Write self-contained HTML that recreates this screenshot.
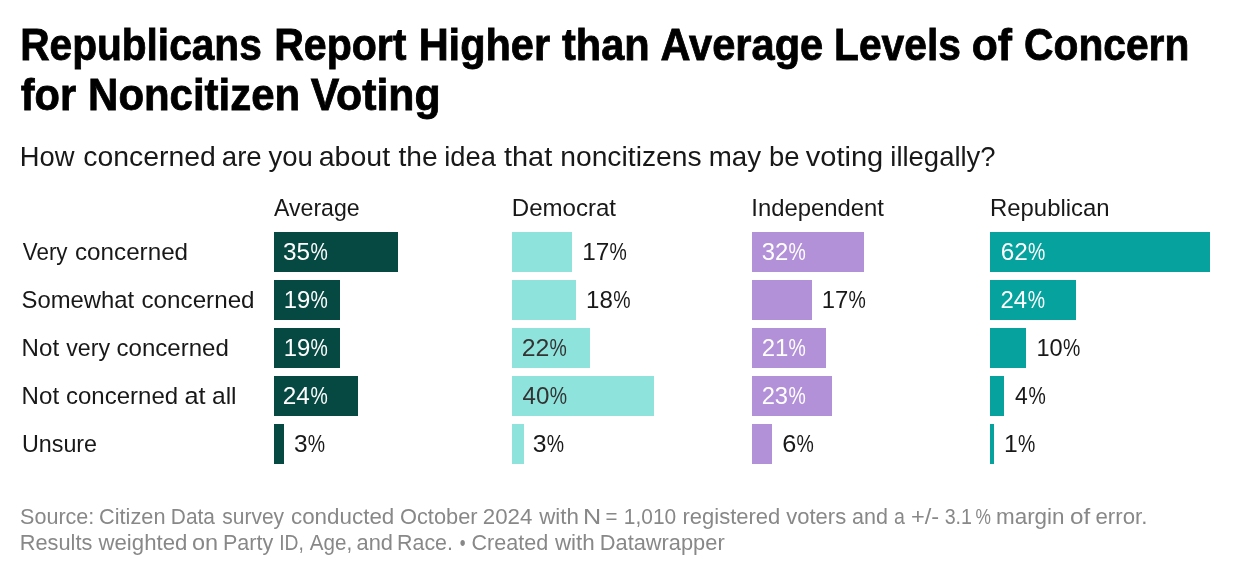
<!DOCTYPE html>
<html lang="en">
<head>
<meta charset="utf-8">
<title>Republicans Report Higher than Average Levels of Concern for Noncitizen Voting</title>
<style>
html,body{margin:0;padding:0;background:#fff;width:1240px;height:576px;overflow:hidden}
body{position:relative;font-family:"Liberation Sans",Arial,sans-serif}
h1,p,footer,div{margin:0;padding:0}
.l{position:absolute;left:0;font-size:0;line-height:0;white-space:nowrap}
.l span{display:inline-block;width:0;white-space:pre}
.bar{position:absolute;height:40px}
.t0 span{font-size:44px;line-height:44px;font-weight:700;color:#000000;transform-origin:0 37px;-webkit-text-stroke:0.8px #000}
.t1 span{font-size:28px;line-height:28px;font-weight:400;color:#181818;transform-origin:0 23px}
.t2 span{font-size:24px;line-height:24px;font-weight:400;color:#181818;transform-origin:0 20px}
.t3 span{font-size:24px;line-height:24px;font-weight:400;color:#ffffff;transform-origin:0 20px}
.t4 span{font-size:24px;line-height:24px;font-weight:400;color:#333333;transform-origin:0 20px}
.t5 span{font-size:22px;line-height:22px;font-weight:400;color:#888888;transform-origin:0 18px}
.c0{background:#064943}
.c1{background:#8fe3dd}
.c2{background:#b391d9}
.c3{background:#06a29d}
</style>
</head>
<body>
<h1><span class="l t0" style="top:23px"><span style="transform:translateX(20.19px) scaleX(0.9234)">Republicans</span> <span style="transform:translateX(274.17px) scaleX(0.9336)">Report</span> <span style="transform:translateX(418.64px) scaleX(0.9433)">Higher</span> <span style="transform:translateX(562px) scaleX(0.9448)">than</span> <span style="transform:translateX(660.53px) scaleX(0.9455)">Average</span> <span style="transform:translateX(834.09px) scaleX(0.9256)">Levels</span> <span style="transform:translateX(971.79px) scaleX(0.9693)">of</span> <span style="transform:translateX(1024.11px) scaleX(0.9259)">Concern</span></span>
<span class="l t0" style="top:73px"><span style="transform:translateX(20.76px) scaleX(0.9442)">for</span> <span style="transform:translateX(88.12px) scaleX(0.9529)">Noncitizen</span> <span style="transform:translateX(310.74px) scaleX(0.9714)">Voting</span></span></h1>
<p class="desc"><span class="l t1" style="top:143px"><span style="transform:translateX(19.8px) scale(0.9767,1.02)">How</span> <span style="transform:translateX(83.23px) scale(1.0137,1.02)">concerned</span> <span style="transform:translateX(221.77px) scale(0.9868,1.02)">are</span> <span style="transform:translateX(268.5px) scale(0.9827,1.02)">you</span> <span style="transform:translateX(318.73px) scale(1.0182,1.02)">about</span> <span style="transform:translateX(398.5px) scale(1.0067,1.02)">the</span> <span style="transform:translateX(444.29px) scale(0.9756,1.02)">idea</span> <span style="transform:translateX(503.98px) scale(1.0326,1.02)">that</span> <span style="transform:translateX(560.23px) scale(1.0091,1.02)">noncitizens</span> <span style="transform:translateX(708.77px) scale(0.9902,1.02)">may</span> <span style="transform:translateX(769.08px) scale(0.9805,1.02)">be</span> <span style="transform:translateX(805.74px) scale(1.0378,1.02)">voting</span> <span style="transform:translateX(890.28px) scale(0.9809,1.02)">illegally?</span></span></p>
<div class="chart">
<div class="head"><span class="l t2" style="top:196px"><span style="transform:translateX(274px) scale(0.9631,1.02)">Average</span> <span style="transform:translateX(511.75px) scale(1.0025,1.02)">Democrat</span> <span style="transform:translateX(751.26px) scale(0.9943,1.02)">Independent</span> <span style="transform:translateX(990.01px) scale(0.9957,1.02)">Republican</span></span></div>
<div class="row"><span class="l t2" style="top:240px"><span style="transform:translateX(22.77px) scale(0.9319,1.02)">Very</span> <span style="transform:translateX(74.99px) scale(1.0091,1.02)">concerned</span></span>
<div class="cell"><div class="bar c0" style="left:274px;top:232px;width:124px"></div><span class="l t3" style="top:240px"><span style="transform:translateX(282.99px) scale(1.0141,1.02)">35</span><span style="transform:translateX(310.39px) scale(0.8101,1.02)">%</span></span></div>
<div class="cell"><div class="bar c1" style="left:512px;top:232px;width:60px"></div><span class="l t2" style="top:240px"><span style="transform:translateX(582.22px) scale(1.0147,1.02)">17</span><span style="transform:translateX(609.39px) scale(0.8101,1.02)">%</span></span></div>
<div class="cell"><div class="bar c2" style="left:752px;top:232px;width:112px"></div><span class="l t3" style="top:240px"><span style="transform:translateX(761.76px) scale(0.9939,1.02)">32</span><span style="transform:translateX(788.39px) scale(0.8101,1.02)">%</span></span></div>
<div class="cell"><div class="bar c3" style="left:990px;top:232px;width:220px"></div><span class="l t3" style="top:240px"><span style="transform:translateX(1000.73px) scale(1.0144,1.02)">62</span><span style="transform:translateX(1027.89px) scale(0.8101,1.02)">%</span></span></div></div>
<div class="row"><span class="l t2" style="top:288px"><span style="transform:translateX(21.51px) scale(0.9933,1.02)">Somewhat</span> <span style="transform:translateX(141.49px) scale(1.0091,1.02)">concerned</span></span>
<div class="cell"><div class="bar c0" style="left:274px;top:280px;width:66px"></div><span class="l t3" style="top:288px"><span style="transform:translateX(283.76px) scale(0.9937,1.02)">19</span><span style="transform:translateX(310.39px) scale(0.8101,1.02)">%</span></span></div>
<div class="cell"><div class="bar c1" style="left:512px;top:280px;width:64px"></div><span class="l t2" style="top:288px"><span style="transform:translateX(585.99px) scale(1.0042,1.02)">18</span><span style="transform:translateX(613.14px) scale(0.8101,1.02)">%</span></span></div>
<div class="cell"><div class="bar c2" style="left:752px;top:280px;width:60px"></div><span class="l t2" style="top:288px"><span style="transform:translateX(821.76px) scale(0.9937,1.02)">17</span><span style="transform:translateX(848.39px) scale(0.8101,1.02)">%</span></span></div>
<div class="cell"><div class="bar c3" style="left:990px;top:280px;width:86px"></div><span class="l t3" style="top:288px"><span style="transform:translateX(1000.51px) scale(0.9960,1.02)">24</span><span style="transform:translateX(1027.69px) scale(0.8101,1.02)">%</span></span></div></div>
<div class="row"><span class="l t2" style="top:336px"><span style="transform:translateX(21.59px) scale(1.0043,1.02)">Not</span> <span style="transform:translateX(66.26px) scale(0.9667,1.02)">very</span> <span style="transform:translateX(116.5px) scale(1.0018,1.02)">concerned</span></span>
<div class="cell"><div class="bar c0" style="left:274px;top:328px;width:66px"></div><span class="l t3" style="top:336px"><span style="transform:translateX(283.76px) scale(0.9937,1.02)">19</span><span style="transform:translateX(310.39px) scale(0.8101,1.02)">%</span></span></div>
<div class="cell"><div class="bar c1" style="left:512px;top:328px;width:78px"></div><span class="l t4" style="top:336px"><span style="transform:translateX(521.71px) scale(1.0351,1.02)">22</span><span style="transform:translateX(549.39px) scale(0.8101,1.02)">%</span></span></div>
<div class="cell"><div class="bar c2" style="left:752px;top:328px;width:74px"></div><span class="l t3" style="top:336px"><span style="transform:translateX(761.65px) scale(0.9979,1.02)">21</span><span style="transform:translateX(788.39px) scale(0.8101,1.02)">%</span></span></div>
<div class="cell"><div class="bar c3" style="left:990px;top:328px;width:36px"></div><span class="l t2" style="top:336px"><span style="transform:translateX(1036.48px) scale(0.9833,1.02)">10</span><span style="transform:translateX(1063.09px) scale(0.8101,1.02)">%</span></span></div></div>
<div class="row"><span class="l t2" style="top:384px"><span style="transform:translateX(21.59px) scale(1.0043,1.02)">Not</span> <span style="transform:translateX(66px) scale(1.0000,1.02)">concerned</span> <span style="transform:translateX(184.45px) scale(1.0526,1.02)">at</span> <span style="transform:translateX(211.98px) scale(1.0233,1.02)">all</span></span>
<div class="cell"><div class="bar c0" style="left:274px;top:376px;width:84px"></div><span class="l t3" style="top:384px"><span style="transform:translateX(282.73px) scale(1.0141,1.02)">24</span><span style="transform:translateX(310.39px) scale(0.8101,1.02)">%</span></span></div>
<div class="cell"><div class="bar c1" style="left:512px;top:376px;width:142px"></div><span class="l t4" style="top:384px"><span style="transform:translateX(522.5px) scale(1.0059,1.02)">40</span><span style="transform:translateX(549.69px) scale(0.8101,1.02)">%</span></span></div>
<div class="cell"><div class="bar c2" style="left:752px;top:376px;width:80px"></div><span class="l t3" style="top:384px"><span style="transform:translateX(761.67px) scale(0.9878,1.02)">23</span><span style="transform:translateX(788.39px) scale(0.8101,1.02)">%</span></span></div>
<div class="cell"><div class="bar c3" style="left:990px;top:376px;width:14px"></div><span class="l t2" style="top:384px"><span style="transform:translateX(1015.12px) scale(0.9551,1.02)">4</span><span style="transform:translateX(1028.59px) scale(0.8101,1.02)">%</span></span></div></div>
<div class="row"><span class="l t2" style="top:432px"><span style="transform:translateX(21.9px) scale(0.9718,1.02)">Unsure</span></span>
<div class="cell"><div class="bar c0" style="left:274px;top:424px;width:10px"></div><span class="l t2" style="top:432px"><span style="transform:translateX(293.88px) scale(1.0178,1.02)">3</span><span style="transform:translateX(307.64px) scale(0.8101,1.02)">%</span></span></div>
<div class="cell"><div class="bar c1" style="left:512px;top:424px;width:12px"></div><span class="l t2" style="top:432px"><span style="transform:translateX(532.77px) scale(1.0311,1.02)">3</span><span style="transform:translateX(546.69px) scale(0.8101,1.02)">%</span></span></div>
<div class="cell"><div class="bar c2" style="left:752px;top:424px;width:20px"></div><span class="l t2" style="top:432px"><span style="transform:translateX(782.18px) scale(1.0545,1.02)">6</span><span style="transform:translateX(796.39px) scale(0.8101,1.02)">%</span></span></div>
<div class="cell"><div class="bar c3" style="left:990px;top:424px;width:4px"></div><span class="l t2" style="top:432px"><span style="transform:translateX(1004.1px) scale(1.0286,1.02)">1</span><span style="transform:translateX(1017.99px) scale(0.8101,1.02)">%</span></span></div></div>
</div>
<footer><span class="l t5" style="top:506px"><span style="transform:translateX(20.02px) scale(0.9801,1.02)">Source:</span> <span style="transform:translateX(99.01px) scale(0.9884,1.02)">Citizen</span> <span style="transform:translateX(170.84px) scale(0.9497,1.02)">Data</span> <span style="transform:translateX(222.29px) scale(0.9531,1.02)">survey</span> <span style="transform:translateX(290.98px) scale(1.0176,1.02)">conducted</span> <span style="transform:translateX(400.01px) scale(0.9909,1.02)">October</span> <span style="transform:translateX(482.79px) scale(1.0138,1.02)">2024</span> <span style="transform:translateX(539.2px) scale(1.0146,1.02)">with</span> <span style="transform:translateX(583px) scale(1.1429,1.02)">N</span> <span style="transform:translateX(605.57px) scale(0.9302,1.02)">=</span> <span style="transform:translateX(623.83px) scale(0.9524,1.02)">1,010</span> <span style="transform:translateX(682.5px) scale(1.0000,1.02)">registered</span> <span style="transform:translateX(786.25px) scale(1.0000,1.02)">voters</span> <span style="transform:translateX(852.02px) scale(0.9781,1.02)">and</span> <span style="transform:translateX(894.11px) scale(0.8889,1.02)">a</span> <span style="transform:translateX(910.93px) scale(1.0722,1.02)">+/-</span> <span style="transform:translateX(944.63px) scale(0.8939,1.02)">3.1</span><span style="transform:translateX(975.41px) scale(0.7889,1.02)">%</span> <span style="transform:translateX(995.97px) scale(1.0195,1.02)">margin</span> <span style="transform:translateX(1070.1px) scale(1.1029,1.02)">of</span> <span style="transform:translateX(1095.49px) scale(1.0103,1.02)">error.</span></span>
<span class="l t5" style="top:532px"><span style="transform:translateX(19.77px) scale(0.9894,1.02)">Results</span> <span style="transform:translateX(98.5px) scale(1.0086,1.02)">weighted</span> <span style="transform:translateX(191.93px) scale(1.0682,1.02)">on</span> <span style="transform:translateX(222.89px) scale(0.9798,1.02)">Party</span> <span style="transform:translateX(279.24px) scale(0.8784,1.02)">ID,</span> <span style="transform:translateX(309.8px) scale(0.9364,1.02)">Age,</span> <span style="transform:translateX(356.51px) scale(0.9927,1.02)">and</span> <span style="transform:translateX(397.1px) scale(0.9712,1.02)">Race.</span> <span style="transform:translateX(459.84px) scale(0.7500,1.02)">•</span> <span style="transform:translateX(471.52px) scale(0.9803,1.02)">Created</span> <span style="transform:translateX(554.9px) scale(1.0199,1.02)">with</span> <span style="transform:translateX(599.76px) scale(0.9915,1.02)">Datawrapper</span></span></footer>
</body>
</html>
